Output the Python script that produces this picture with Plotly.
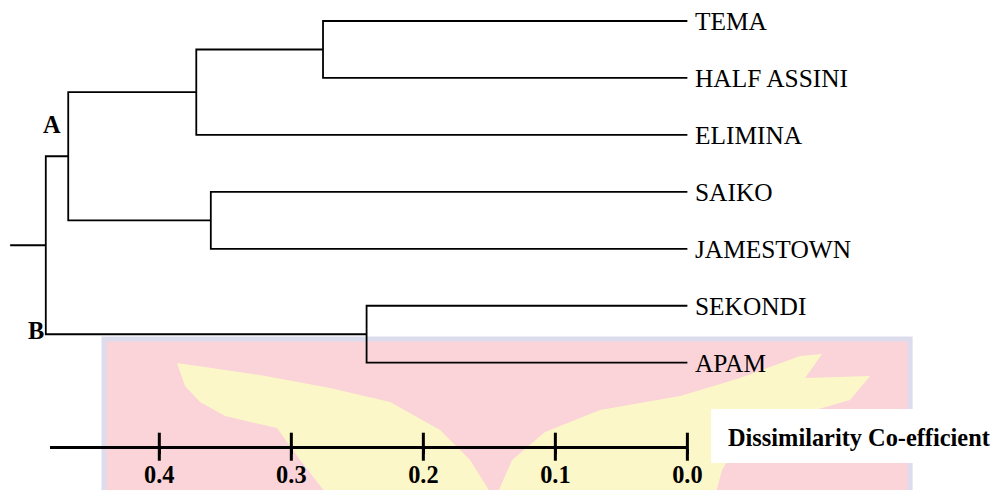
import plotly.graph_objects as go

# ---------------- data ----------------
leaves = ["TEMA", "HALF ASSINI", "ELIMINA", "SAIKO", "JAMESTOWN", "SEKONDI", "APAM"]
# agglomeration steps: each merge creates cluster "c<k>" (k = 1..6)
merge_left = ["TEMA", "c1", "SAIKO", "c2", "SEKONDI", "c4"]
merge_right = ["HALF ASSINI", "ELIMINA", "JAMESTOWN", "c3", "APAM", "c5"]
merge_height = [0.276, 0.372, 0.361, 0.469, 0.243, 0.486]
root_stub = 0.513
tick_vals = [0.4, 0.3, 0.2, 0.1, 0.0]
tick_text = ["0.4", "0.3", "0.2", "0.1", "0.0"]
scale_start = 0.483
scale_title = "Dissimilarity Co-efficient"
group_labels = ["A", "B"]

# ---------------- geometry helpers ----------------
# layout designed in reference-pixel units (996 x 490); horizontal factor SX
SX = 1.0152
W, H = 1010, 490
PX0 = 687.3      # ref x of dissimilarity 0
PPU = 1320.0     # ref pixels per unit of dissimilarity
LEAF_Y0 = 21.0   # ref y of first leaf
LEAF_DY = 56.95  # ref spacing of leaves
SCALE_PY = 446.7


def px(x):
    return x * SX / W


def py(y):
    return 1 - y / H


def yidx(pix):
    return (pix - LEAF_Y0) / LEAF_DY


def fs(v):
    return v * SX


serif = "Liberation Serif, Times New Roman, serif"

# ---------------- dendrogram segments ----------------
pos = {name: (0.0, float(i)) for i, name in enumerate(leaves)}
xs, ys = [], []
for k, (l, r, h) in enumerate(zip(merge_left, merge_right, merge_height), start=1):
    hl, yl = pos[l]
    hr, yr = pos[r]
    xs += [hl, h, h, hr, None]
    ys += [yl, yl, yr, yr, None]
    pos["c%d" % k] = (h, (yl + yr) / 2)
root_h, root_y = pos["c%d" % len(merge_height)]
xs += [root_h, root_stub, None]
ys += [root_y, root_y, None]

fig = go.Figure()

fig.add_trace(go.Scatter(
    x=xs, y=ys, mode="lines",
    line=dict(color="black", width=1.8),
    hoverinfo="skip", showlegend=False, cliponaxis=False,
))

# scale-bar tick marks crossing the axis line
scale_y = yidx(SCALE_PY)
fig.add_trace(go.Scatter(
    x=tick_vals, y=[scale_y] * len(tick_vals), mode="markers",
    xaxis="x2", yaxis="y",
    marker=dict(symbol="line-ns", size=20, line=dict(color="black", width=3)),
    hoverinfo="skip", showlegend=False, cliponaxis=False,
))

# ---------------- watermark (background decoration) ----------------
shapes = []
shapes.append(dict(type="rect", xref="paper", yref="paper", layer="below",
                   x0=px(104), x1=px(910), y0=py(339), y1=py(495),
                   fillcolor="#fad4d8", line=dict(color="#dcdcec", width=5)))


def path_from(points):
    return "M " + " L ".join("%.5f,%.5f" % (px(a), py(b)) for a, b in points) + " Z"


left_wing = [(177, 363), (260, 375), (330, 388), (390, 402), (440, 430), (470, 460),
             (490, 492), (325, 492), (300, 460), (277, 428), (225, 416), (200, 402),
             (185, 386)]
right_wing = [(498, 492), (512, 460), (545, 432), (600, 410), (680, 396), (740, 378),
              (800, 356), (822, 354), (805, 378), (870, 376), (850, 400), (780, 420),
              (740, 440), (722, 470), (716, 492)]
for pts in (left_wing, right_wing):
    shapes.append(dict(type="path", xref="paper", yref="paper", layer="below",
                       path=path_from(pts), fillcolor="#fcf7c8",
                       line=dict(color="#fcf7c8", width=0)))

# white box behind the scale title
shapes.append(dict(type="rect", xref="paper", yref="paper", layer="below",
                   x0=px(711), x1=1.0, y0=py(463), y1=py(409),
                   fillcolor="white", line=dict(width=0)))

# ---------------- annotations ----------------
annotations = []
for i, name in enumerate(leaves):
    annotations.append(dict(
        x=0, y=i, xref="x", yref="y", text=name, showarrow=False,
        xanchor="left", yanchor="middle", xshift=fs(6), yshift=0,
        font=dict(family=serif, size=fs(25), color="black"),
    ))

annotations.append(dict(x=0.4815, y=yidx(124), xref="x", yref="y", text="<b>A</b>",
                        showarrow=False, xanchor="center", yanchor="middle",
                        font=dict(family=serif, size=fs(24), color="black")))
annotations.append(dict(x=0.4934, y=yidx(330), xref="x", yref="y", text="<b>B</b>",
                        showarrow=False, xanchor="center", yanchor="middle",
                        font=dict(family=serif, size=fs(24), color="black")))
annotations.append(dict(x=px(726), y=py(437), xref="paper", yref="paper",
                        text="<b>%s</b>" % scale_title, showarrow=False,
                        xanchor="left", yanchor="middle",
                        font=dict(family=serif, size=fs(24), color="black")))

x_left = PX0 / PPU
x_right = (PX0 - W / SX) / PPU
y_top = yidx(0)
y_bot = yidx(H)

fig.update_layout(
    width=W, height=H,
    margin=dict(l=0, r=0, t=0, b=0),
    paper_bgcolor="white", plot_bgcolor="rgba(0,0,0,0)",
    showlegend=False,
    xaxis=dict(range=[x_left, x_right], domain=[0, 1], visible=False, fixedrange=True),
    yaxis=dict(range=[y_bot, y_top], domain=[0, 1], visible=False, fixedrange=True),
    xaxis2=dict(
        range=[scale_start, 0.0],
        domain=[px(PX0 - PPU * scale_start), px(PX0)],
        anchor="free", position=py(SCALE_PY),
        showline=True, linecolor="black", linewidth=3.5,
        showgrid=False, zeroline=False,
        tickmode="array", tickvals=tick_vals, ticktext=tick_text,
        ticks="outside", ticklen=5, tickwidth=3, tickcolor="black",
        tickfont=dict(family=serif, size=fs(24), color="black", weight="bold"),
        fixedrange=True,
    ),
    shapes=shapes,
    annotations=annotations,
)

fig.write_html(
    "out.html",
    config={"displayModeBar": False, "staticPlot": True},
    post_script="document.body.style.margin='0';document.body.style.overflow='hidden';",
)
